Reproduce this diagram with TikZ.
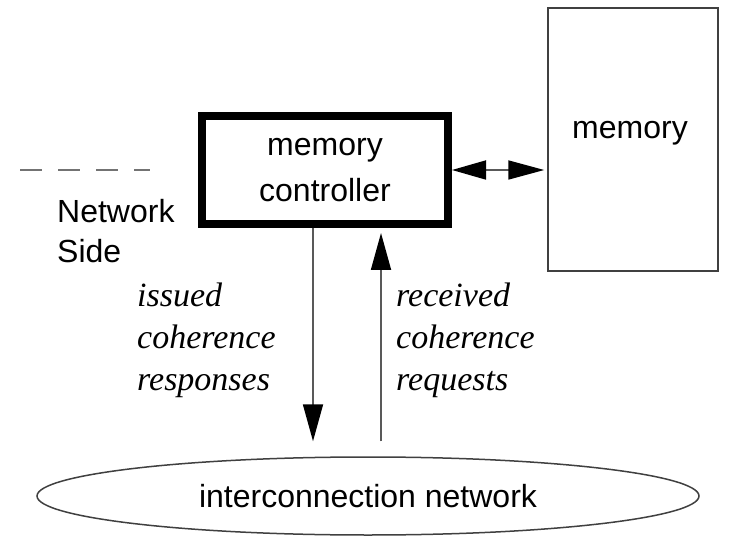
\documentclass[tikz,border=0pt]{standalone}
\usepackage{fontspec}
\setmainfont{Liberation Serif}
\setsansfont{Liberation Sans}
\usetikzlibrary{arrows.meta,shapes.geometric}

\tikzset{
  sanslabel/.style={font=\sffamily\fontsize{32}{40}\selectfont, inner sep=0pt},
  itlabel/.style={font=\itshape\fontsize{34}{42}\selectfont, align=left, inner sep=0pt, anchor=north west},
  thinline/.style={draw=black!75, line width=1.5pt},
  flow/.style={draw=black!65, line width=1.8pt, -{Triangle[length=37pt,width=20pt,color=black]}},
  bothway/.style={draw=black!65, line width=1.8pt, {Triangle[length=34pt,width=19pt,color=black]}-{Triangle[length=36pt,width=19pt,color=black]}}
}

\begin{document}
\begin{tikzpicture}[x=1pt,y=-1pt]
\useasboundingbox[fill=white] (0,0) rectangle (736,537);

% memory controller with heavy border
\node[draw, line width=8pt, minimum width=246pt, minimum height=108pt,
      sanslabel, align=center] (ctrl) at (325,170)
      {memory\\[6pt]controller};

% main memory block
\node[thinline, rectangle, minimum width=170pt, minimum height=263pt] (mem) at (633,139.5) {};
\node[sanslabel] (memtxt) at (630,133) {memory};

% interconnect
\node[thinline, ellipse, minimum width=662pt, minimum height=78pt, inner sep=0pt,
      sanslabel] (net) at (368,496) {interconnection network};

% controller <-> memory
\draw[bothway, shorten >=3pt] (ctrl.east) -- (ctrl.east -| mem.west);

% responses down, requests up
\draw[flow, shorten >=15pt] (ctrl.south -| 313,0) -- (net.north -| 313,0);
\draw[flow, shorten <=15pt, shorten >=5pt] (net.north -| 381,0) -- (ctrl.south -| 381,0);

% network side boundary
\coordinate (sideA) at (20,170);
\coordinate (sideB) at (150,170);
\draw[draw=black!55, line width=1.5pt, dash pattern=on 22pt off 16pt] (sideA) -- (sideB);
\node[sanslabel, align=left, anchor=north west] (side) at (57,199) {Network\\Side};

% message labels
\node[itlabel] (resp) at (137,283) {issued\\coherence\\responses};
\node[itlabel] (reqs) at (396,283) {received\\coherence\\requests};
\end{tikzpicture}
\end{document}
